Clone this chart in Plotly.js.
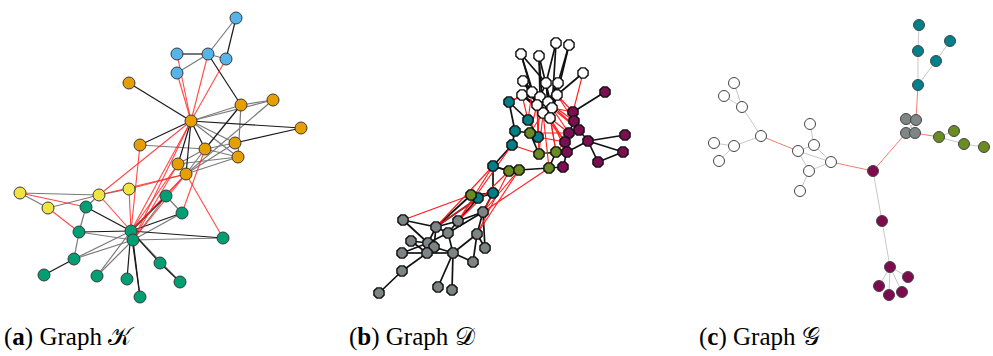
<!DOCTYPE html>
<html><head><meta charset="utf-8">
<script src="https://cdn.plot.ly/plotly-3.0.1.min.js"></script>
<style>html,body{margin:0;padding:0;background:#fff}#plot{width:993px;height:356px}</style>
</head><body><div id="plot"></div>
<script>
// ---------- Graph K (panel a) ----------
const aNodeX = [236,177,208,226,177, 129,191,241,273,301,140,205,235,238,178,186, 20,48,99,129, 86,166,182,79,131,133,223,74,160,44,97,127,180,140];
const aNodeY = [18,54,54,59,73, 83,121,105,100,128,145,149,143,157,164,174, 193,208,195,189, 207,196,213,232,231,240,238,259,263,275,276,279,282,297];
const aNodeGroup = [0,0,0,0,0, 1,1,1,1,1,1,1,1,1,1,1, 2,2,2,2, 3,3,3,3,3,3,3,3,3,3,3,3,3,3];
const aEdgesBlack = [[0,3],[1,2],[5,6],[6,9],[6,10],[6,11],[6,14],[6,15],[2,7],[9,12],[14,15],[7,11],[20,24],[23,24],[24,26],[27,29],[24,31],[24,33],[24,28],[28,32],[21,24],[22,24],[25,33],[24,21]];
const aEdgesGray = [[0,2],[2,3],[2,4],[6,7],[6,8],[6,12],[6,13],[7,8],[7,13],[10,11],[11,12],[11,13],[11,14],[11,15],[8,15],[12,15],[13,15],[13,14],[16,18],[16,17],[17,18],[18,19],[18,20],[20,23],[23,27],[27,24],[27,25],[30,24],[30,25],[32,24],[21,22],[22,25],[21,25],[25,26],[23,25]];
const aEdgesRed = [[1,6],[4,6],[2,6],[3,6],[10,24],[6,18],[6,24],[6,25],[15,19],[15,18],[15,24],[15,21],[15,26],[11,22],[14,24],[14,25],[16,20],[17,23],[18,24],[19,24],[15,25]];
const aColors = ['#56B4E9','#E69F00','#F0E442','#009E73'];

// ---------- Graph D (panel b) ----------
const bNodeX = [521,539,556,569,583,523,546,558,522,532,540,548,552,543,550,537,557,
  509,528,515,538,512,493,493,478,
  530,539,556,509,519,549,471,
  605,573,574,579,569,565,588,625,623,567,598,563,
  483,458,436,403,448,477,411,428,434,402,427,453,485,473,402,379,438,452];
const bNodeY = [54,56,43,45,73,81,83,83,95,92,97,102,108,113,118,105,95,
  102,120,131,137,145,166,193,198,
  133,154,152,171,170,168,195,
  92,112,121,130,133,142,141,135,152,152,162,167,
  212,221,227,220,233,234,241,243,247,253,253,253,248,262,271,293,287,290];
const bNodeGroup = [0,0,0,0,0,0,0,0,0,0,0,0,0,0,0,0,0, 1,1,1,1,1,1,1,1, 2,2,2,2,2,2,2, 3,3,3,3,3,3,3,3,3,3,3,3, 4,4,4,4,4,4,4,4,4,4,4,4,4,4,4,4,4,4];
const bEdgesBlack = [[0,9],[1,10],[2,12],[2,6],[3,16],[3,7],[4,16],[5,9],[5,15],[6,11],[7,12],[8,15],[9,10],[10,11],[11,12],[12,13],[13,14],[15,13],[16,12],[10,13],[9,15],[11,14],[6,10],[7,11],[16,14],[15,11],[0,6],[1,12],
  [8,13],[9,14],[5,12],[6,14],[7,13],[16,13],[15,14],[10,12],[9,11],[8,11],[1,13],[0,15],
  [17,18],[17,19],[18,20],[19,21],[19,25],[20,25],[21,22],[22,23],[22,28],[23,24],[23,31],[24,31],
  [26,27],[28,29],[29,30],[30,27],[27,41],[30,43],[28,22],[26,25],
  [32,33],[33,34],[34,35],[35,36],[36,37],[35,38],[38,39],[38,40],[38,42],[37,41],[41,43],[41,38],[34,36],[33,35],[42,40],
  [44,45],[44,49],[44,56],[44,48],[45,46],[45,48],[46,47],[46,51],[46,52],[46,48],[48,55],[48,51],[49,56],[49,57],[49,55],[50,51],[50,54],[51,53],[52,54],[52,55],[53,54],[54,55],[55,57],[55,60],[55,61],[54,58],[58,59],[47,51],
  [23,44],[24,45],[31,46],[24,46]];
const bEdgesRed = [[8,18],[9,18],[15,20],[13,25],[13,26],[14,27],[14,36],[12,33],[16,33],[4,33],[11,34],[14,37],[13,30],[10,20],[15,26],[12,35],[14,41],[11,27],[20,37],[26,41],[27,37],[25,36],[21,26],[8,17],[9,17],[16,34],
  [12,36],[11,35],[15,25],[13,37],
  [22,46],[28,45],[29,44],[31,47],[29,49],[28,49],[23,44],[30,44],[21,45],[24,46],[22,45]];
const bColors = ['#ffffff','#007f87','#6b8a23','#7b0f52','#7d8484'];

// ---------- Graph G (panel c) ----------
const cNodeX = [734,724,742,761,714,734,719,810,814,798,831,809,800, 873,882,890,908,879,889,902, 919,918,950,936,918, 906,916,906,915, 939,954,964,984];
const cNodeY = [83,96,107,136,143,146,161,124,145,151,162,171,191, 171,221,267,277,286,295,292, 25,51,41,61,85, 119,120,133,133, 137,131,144,147];
const cNodeGroup = [0,0,0,0,0,0,0,0,0,0,0,0,0, 1,1,1,1,1,1,1, 2,2,2,2,2, 3,3,3,3, 4,4,4,4];
const cEdgesGray = [[0,2],[1,2],[2,3],[3,5],[5,4],[5,6],[9,8],[8,7],[9,10],[8,10],[9,11],[11,10],[11,12],
  [13,14],[14,15],[15,16],[15,17],[15,18],[15,19],[24,21],[21,20],[24,23],[23,22],[29,30],[29,31],[31,32],[25,26],[27,28],[25,28],[26,27]];
const cEdgesRed = [[3,9],[10,13],[13,27],[24,26],[28,29]];
const cColors = ['#ffffff','#7d0b4e','#00808a','#7e8686','#6b8c23'];

// ---------- captions ----------
const captionLetters = ['a','b','c'];
const captionNames = ['\u{1D4A6}','\u{1D49F}','\u{1D4A2}'];
const captionX = [2,347,697];

function edgeTrace(nx, ny, edges, color, width){
  const x=[], y=[];
  edges.forEach(([i,j])=>{ x.push(nx[i],nx[j],null); y.push(ny[i],ny[j],null); });
  return {type:'scatter', mode:'lines', x, y, line:{color, width}, hoverinfo:'skip', showlegend:false};
}
function nodeTrace(nx, ny, groups, colors, symbol, size, lineColor, lw){
  return {type:'scatter', mode:'markers', x:nx, y:ny,
    marker:{symbol, size, color:groups.map(g=>colors[g]), line:{color:lineColor, width:lw}},
    hoverinfo:'skip', showlegend:false};
}
const traces = [
  edgeTrace(aNodeX,aNodeY,aEdgesGray,'#7a7a7a',1.2),
  edgeTrace(aNodeX,aNodeY,aEdgesBlack,'#1a1a1a',1.2),
  edgeTrace(aNodeX,aNodeY,aEdgesRed,'rgba(255,40,40,0.85)',1.1),
  nodeTrace(aNodeX,aNodeY,aNodeGroup,aColors,'circle',12,'#3a3a3a',1),
  edgeTrace(bNodeX,bNodeY,bEdgesBlack,'#111111',1.7),
  edgeTrace(bNodeX,bNodeY,bEdgesRed,'#ff1a1a',1.1),
  nodeTrace(bNodeX,bNodeY,bNodeGroup,bColors,'octagon',11,'#111111',1.4),
  edgeTrace(cNodeX,cNodeY,cEdgesGray,'#c8c8c8',1),
  edgeTrace(cNodeX,cNodeY,cEdgesRed,'#f27d6e',1),
  nodeTrace(cNodeX,cNodeY,cNodeGroup,cColors,'circle',11,'#444444',1)
];
const annotations = captionLetters.map((l,k)=>({
  x:captionX[k], y:353, xref:'x', yref:'y', xanchor:'left', yanchor:'bottom', showarrow:false,
  text:'(<b>'+l+'</b>) Graph '+captionNames[k],
  font:{family:'Liberation Serif, DejaVu Serif, serif', size:25, color:'#000'}
}));
const layout = {
  width:993, height:356, margin:{l:0,r:0,t:0,b:0},
  paper_bgcolor:'#fff', plot_bgcolor:'#fff',
  xaxis:{range:[0,993], visible:false, fixedrange:true},
  yaxis:{range:[356,0], visible:false, fixedrange:true},
  annotations, showlegend:false
};
Plotly.newPlot('plot', traces, layout, {staticPlot:true, displayModeBar:false});
</script></body></html>
